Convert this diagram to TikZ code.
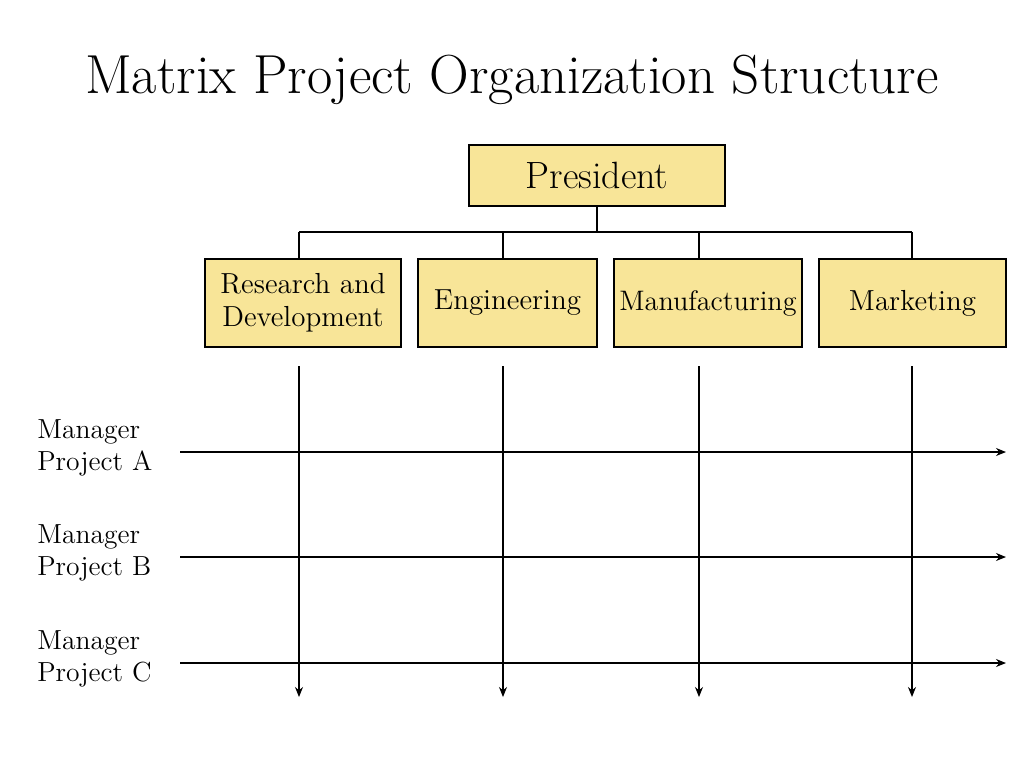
\documentclass[tikz,border=0pt]{standalone}
\usepackage{tikz}
\usetikzlibrary{arrows.meta,positioning}
\definecolor{deptfill}{RGB}{248,229,152}
\tikzset{font={\fontsize{14.5pt}{16.5}\selectfont}}
\begin{document}
\begin{tikzpicture}[x=0.5pt,y=-0.5pt,semithick,
            dept/.style={draw,fill=deptfill,line width=0.6pt,align=center,inner sep=0pt},
            mgr/.style={align=left,anchor=west,font={\fontsize{13.8pt}{16}\selectfont}},
            link/.style={-,line width=0.6pt},
            flow/.style={-{Stealth[length=5pt,width=4pt]},line width=0.6pt}]
            \useasboundingbox (0,0) rectangle (1024,768);
            \node	        (title)	at (512,80)	{\fontsize{27.5pt}{32}\selectfont Matrix Project Organization Structure};
            \node[dept,minimum width=128pt,minimum height=30.5pt,font={\fontsize{19pt}{22}\selectfont}]	(pres)	at (597,175.5)	{President};
            \node[dept,minimum width=98pt,minimum height=44pt]	(rd)	at (303,303)	{Research and\\Development};
            \node[dept,minimum width=89.5pt,minimum height=44pt]	(eng)	at (507.5,303)	{Engineering};
            \node[dept,minimum width=94pt,minimum height=44pt,font={\fontsize{14.1pt}{16}\selectfont}]	(man)	at (708,303)	{Manufacturing};
            \node[dept,minimum width=93.5pt,minimum height=44pt]	(mkt)	at (912.5,303)	{Marketing};
            \node[mgr]	(pa)	at (30,448)	{Manager\\Project A};
            \node[mgr]	(pb)	at (30,553)	{Manager\\Project B};
            \node[mgr]	(pc)	at (30,659)	{Manager\\Project C};
            % bus under the president
            \coordinate (bus) at (597,232);
            \coordinate (busl) at (299,232);
            \coordinate (busr) at (912,232);
            \draw[link] (pres.south) -- (bus);
            \draw[link] (busl) -- (busr);
            \foreach \x/\d in {299/rd,503/eng,699/man,912/mkt}{
                \coordinate (drop\d) at (\x,232);
                \draw[link] (drop\d) -- (drop\d |- \d.north);
            }
            % functional lines
            \foreach \x/\d in {299/rd,503/eng,699/man,912/mkt}{
                \coordinate (top\d) at (\x,366);
                \coordinate (end\d) at (\x,697);
                \draw[flow] (top\d) -- (end\d);
            }
            % project lines
            \foreach \y/\p in {452/pa,557/pb,663/pc}{
                \coordinate (from\p) at (180,\y);
                \coordinate (to\p) at (1006,\y);
                \draw[flow] (from\p) -- (to\p);
            }
        \end{tikzpicture}
\end{document}
